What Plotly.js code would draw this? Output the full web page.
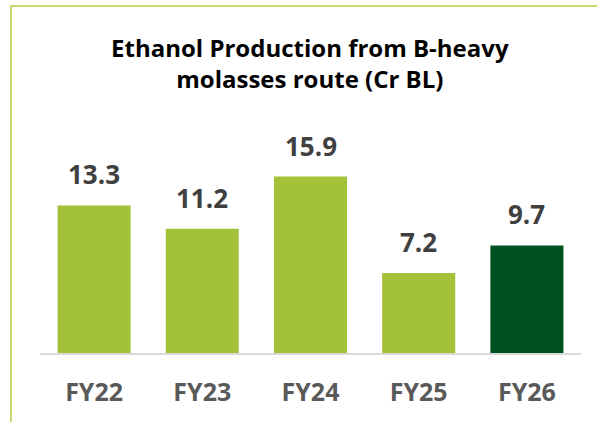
<!DOCTYPE html>
<html>
<head>
<meta charset="utf-8">
<script src="https://cdn.plot.ly/plotly-3.0.1.min.js"></script>
<style>
  html, body { margin: 0; padding: 0; background: #fff; }
  #wrap { position: relative; width: 597px; height: 422px; overflow: hidden; }
  #frame { position: absolute; left: 10px; top: 5px; width: 700px; height: 500px;
           border-left: 2px solid #c3da6c; border-top: 2px solid #c3da6c; }
  #chart { position: absolute; left: 0; top: 0; width: 597px; height: 422px; }
</style>
</head>
<body>
<div id="wrap">
  <div id="frame"></div>
  <div id="chart"></div>
</div>
<script>
const categories = ["FY22", "FY23", "FY24", "FY25", "FY26"];
const values = [13.3, 11.2, 15.9, 7.2, 9.7];
const barColors = ["#a3c139", "#a3c139", "#a3c139", "#a3c139", "#00501f"];
const valueLabels = ["13.3", "11.2", "15.9", "7.2", "9.7"];
const titleText = "Ethanol Production from B-heavy<br>molasses route (Cr BL)";

const trace = {
  type: "bar",
  x: categories,
  y: values,
  marker: { color: barColors },
  hoverinfo: "none"
};

const annotations = categories.map((c, i) => ({
  x: c, y: values[i], xref: "x", yref: "y",
  text: valueLabels[i], showarrow: false,
  yanchor: "bottom", yshift: 11,
  font: { family: "Open Sans, sans-serif", size: 26, color: "#404040", weight: "bold" }
}));

const layout = {
  width: 597, height: 422,
  paper_bgcolor: "rgba(0,0,0,0)",
  plot_bgcolor: "rgba(0,0,0,0)",
  margin: { l: 40, r: 16, t: 120, b: 69 },
  title: {
    text: titleText,
    x: 0.519, xanchor: "center",
    y: 0.865, yanchor: "middle",
    font: { family: "Open Sans, sans-serif", size: 24, color: "#000000", weight: "bold" }
  },
  bargap: 0.325,
  showlegend: false,
  xaxis: {
    showline: true, linecolor: "#d9d9d9", linewidth: 2,
    ticks: "", ticklabelstandoff: 16,
    tickfont: { family: "Open Sans, sans-serif", size: 25, color: "#595959", weight: "bold" },
    fixedrange: true
  },
  yaxis: {
    range: [0, 21], visible: false, showgrid: false, zeroline: false, fixedrange: true
  },
  annotations: annotations
};

Plotly.newPlot("chart", [trace], layout, { displayModeBar: false, staticPlot: true });
</script>
</body>
</html>
